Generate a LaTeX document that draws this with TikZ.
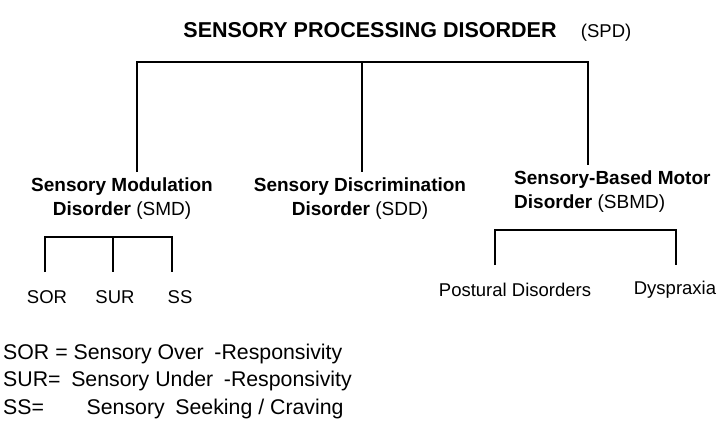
\documentclass[tikz,border=0pt]{standalone}
\usepackage{fontspec}
\setmainfont{Liberation Sans}
\usetikzlibrary{positioning}
\tikzset{
    % text styles
    title/.style={font=\bfseries\fontsize{21.5}{24}\selectfont, inner sep=0pt},
    head/.style={font=\bfseries\fontsize{19}{22}\selectfont, inner sep=0pt, align=center},
    leaf/.style={font=\fontsize{18.5}{22}\selectfont, inner sep=0pt},
    key/.style={font=\fontsize{21.3}{24}\selectfont, inner sep=0pt, anchor=west},
    % tree lines
    branch/.style={draw=black, line width=1.2pt}
}
\begin{document}
\begin{tikzpicture}[x=1pt,y=-1pt]
  \useasboundingbox (0,0) rectangle (720,436);

  \node[title] (spd) at (370,30) {SENSORY PROCESSING DISORDER};
  \node[leaf, base right=24pt of spd.base east] (spdabbr) {(SPD)};

  \coordinate (top) at (362,62);
  \node[head] (smd) at (122,199) {Sensory Modulation\\[2pt]Disorder \mdseries(SMD)};
  \node[head] (sdd) at (360,199) {Sensory Discrimination\\[2pt]Disorder \mdseries(SDD)};
  \node[head, anchor=west, align=left] (sbmd) at (514,192) {Sensory-Based Motor\\[2pt]Disorder \mdseries(SBMD)};

  \draw[branch] (137,172) |- (top) -| (588,165);
  \draw[branch] (top) -- (362,172);

  % SMD subtypes
  \node[leaf] (sor) at (47,297) {SOR};
  \node[leaf] (sur) at (115,297) {SUR};
  \node[leaf] (ss) at (180,297) {SS};
  \draw[branch] (45,272) |- (172,237) -- (172,272);
  \draw[branch] (113,237) -- (113,272);

  % SBMD subtypes
  \node[leaf] (post) at (515,290) {Postural Disorders};
  \node[leaf] (dysp) at (675,290) {Dyspraxia};
  \draw[branch] (495,265) |- (676,230) -- (676,265);

  % legend
  \node[key] (k1) at (3,354) {SOR = Sensory Over\enspace-Responsivity};
  \node[key] (k2) at (3,381) {SUR=\enspace Sensory Under\enspace-Responsivity};
  \node[key] (k3) at (3,409) {SS=\qquad Sensory\enspace Seeking / Craving};
\end{tikzpicture}
\end{document}
